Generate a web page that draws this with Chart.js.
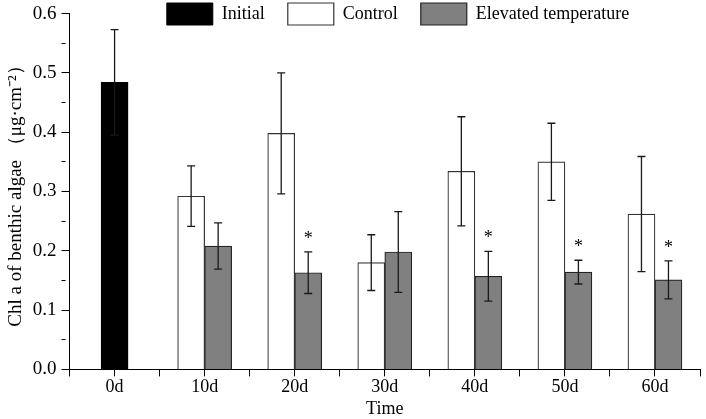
<!DOCTYPE html>
<html>
<head>
<meta charset="utf-8">
<script src="https://cdn.jsdelivr.net/npm/chart.js@4.4.1/dist/chart.umd.min.js"></script>
<style>
  html, body { margin: 0; padding: 0; background: #fff; }
  #wrap { width: 706px; height: 419px; }
</style>
</head>
<body>
<div id="wrap"><canvas id="Chart"></canvas></div>
<script>
const days = ["0d", "10d", "20d", "30d", "40d", "50d", "60d"];

const initial = [0.484, null, null, null, null, null, null];
const initialErr = [0.089, null, null, null, null, null, null];

const control = [null, 0.292, 0.398, 0.180, 0.334, 0.350, 0.262];
const controlErr = [null, 0.051, 0.102, 0.047, 0.092, 0.065, 0.097];

const elevated = [null, 0.208, 0.163, 0.198, 0.157, 0.164, 0.151];
const elevatedErr = [null, 0.039, 0.035, 0.068, 0.042, 0.020, 0.032];
const elevatedSig = [false, false, true, false, true, true, true];

const serif = "'Liberation Serif', 'Times New Roman', serif";
Chart.defaults.font.family = serif;
Chart.defaults.color = "#000";

const toPoints = (arr) => arr.map((v, i) => ({ x: i, y: v }));
const isMinor = (v) => Math.round(v * 1000) % 100 !== 0;

// error bars + significance stars, drawn on top of the bars
const errorBars = {
  id: "errorBars",
  afterDatasetsDraw(chart) {
    const ctx = chart.ctx;
    const yScale = chart.scales.y;
    ctx.save();
    ctx.strokeStyle = "#1a1a1a";
    ctx.fillStyle = "#000";
    ctx.lineWidth = 1.3;
    ctx.font = "18px " + serif;
    ctx.textAlign = "center";
    ctx.textBaseline = "middle";
    chart.data.datasets.forEach((ds, di) => {
      const meta = chart.getDatasetMeta(di);
      meta.data.forEach((bar, i) => {
        const v = ds.data[i].y;
        const e = ds.errors[i];
        if (v == null || e == null) return;
        const top = yScale.getPixelForValue(v + e);
        const bot = yScale.getPixelForValue(v - e);
        ctx.beginPath();
        ctx.moveTo(bar.x, top);
        ctx.lineTo(bar.x, bot);
        ctx.moveTo(bar.x - 4, top);
        ctx.lineTo(bar.x + 4, top);
        ctx.moveTo(bar.x - 4, bot);
        ctx.lineTo(bar.x + 4, bot);
        ctx.stroke();
        if (ds.sig && ds.sig[i]) {
          ctx.fillText("*", bar.x, top - 13);
        }
      });
    });
    ctx.restore();
  },
};

// legend sits over the top of the plot instead of taking its own row
const legendInPlot = {
  id: "legendInPlot",
  afterInit(chart) {
    const lg = chart.legend;
    const fit = lg.fit;
    lg.fit = function () {
      fit.call(this);
      this.height = 0;
    };
  },
  afterLayout(chart) {
    const lg = chart.legend;
    lg.top = -20;
    lg.bottom = 60;
    lg.height = 80;
    lg.left += 48;
    lg.right += 48;
  },
};

let ctx = document.getElementById("Chart").getContext("2d");
let myChart = new Chart(ctx, {
  type: "bar",
  data: {
    datasets: [
      {
        label: "Initial",
        data: toPoints(initial),
        errors: initialErr,
        backgroundColor: "#000",
        borderColor: "#000",
        borderWidth: 1,
      },
      {
        label: "Control",
        data: toPoints(control),
        errors: controlErr,
        backgroundColor: "#fff",
        borderColor: "#333",
        borderWidth: 1.2,
      },
      {
        label: "Elevated temperature",
        data: toPoints(elevated),
        errors: elevatedErr,
        sig: elevatedSig,
        backgroundColor: "#808080",
        borderColor: "#222",
        borderWidth: 1.2,
      },
    ],
  },
  options: {
    responsive: true,
    maintainAspectRatio: false,
    animation: false,
    datasets: {
      bar: { barThickness: 27, skipNull: true },
    },
    layout: { padding: { top: 0, right: 6, bottom: 1, left: 0 } },
    plugins: {
      tooltip: { enabled: false },
      legend: {
        position: "top",
        align: "center",
        labels: {
          boxWidth: 46,
          boxHeight: 22,
          padding: 23,
          font: { size: 18 },
          color: "#000",
        },
      },
    },
    scales: {
      x: {
        type: "linear",
        min: -0.5,
        max: 6.5,
        offset: false,
        grid: {
          offset: false,
          drawOnChartArea: false,
          tickLength: 7,
          tickColor: "#000",
          tickBorderDash: (c) => (isMinor(c.tick ? c.tick.value : 0) ? [4, 40] : []),
        },
        border: { color: "#000", width: 1 },
        ticks: {
          stepSize: 0.5,
          autoSkip: false,
          maxRotation: 0,
          padding: 0,
          font: { size: 18 },
          callback: (v) => (Number.isInteger(v) ? days[v] : ""),
        },
        title: {
          display: true,
          text: "Time",
          font: { size: 18, lineHeight: 1 },
          padding: { top: 2, bottom: 0 },
        },
      },
      y: {
        min: 0,
        max: 0.6,
        grid: {
          drawOnChartArea: false,
          tickLength: 8,
          tickColor: "#000",
          tickBorderDash: (c) => (isMinor(c.tick ? c.tick.value : 0) ? [4, 40] : []),
        },
        border: { color: "#000", width: 1 },
        ticks: {
          stepSize: 0.05,
          autoSkip: false,
          padding: 5,
          font: { size: 19, lineHeight: 0.9 },
          callback: (v) => (isMinor(v) ? "" : v.toFixed(1)),
        },
        title: {
          display: true,
          text: "Chl a of benthic algae （μg·cm⁻²）",
          font: { size: 19 },
          padding: { top: 5, bottom: 0 },
        },
      },
    },
  },
  plugins: [errorBars, legendInPlot],
});
</script>
</body>
</html>
